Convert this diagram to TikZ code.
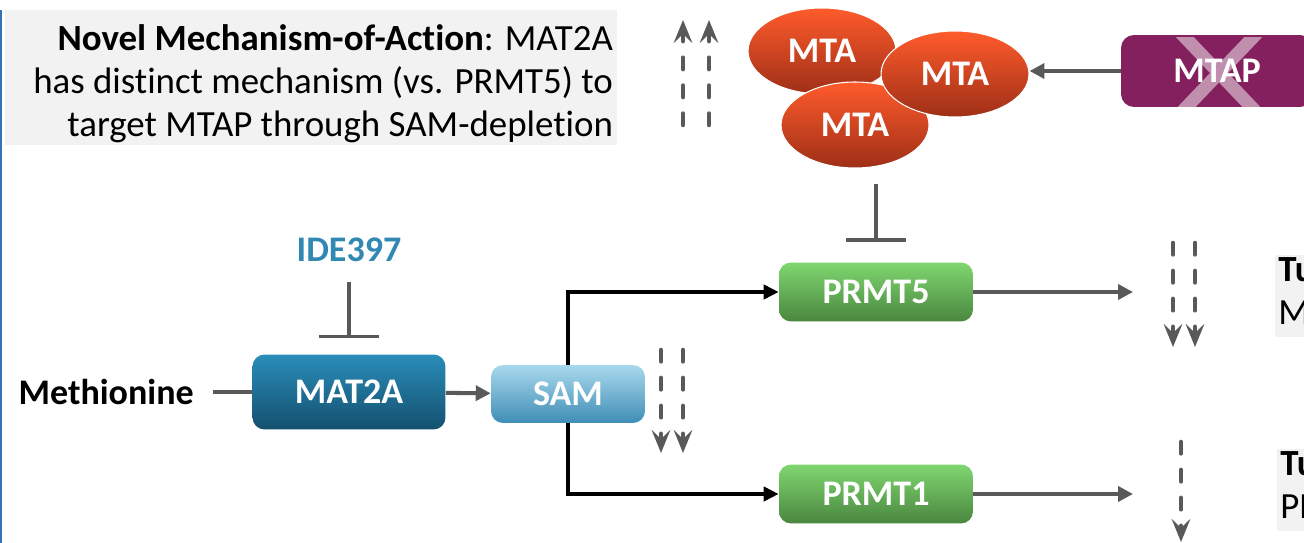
\documentclass[tikz,border=0pt]{standalone}
\usepackage{fontspec}
\setmainfont{Carlito}[Ligatures=CommonOff]
\usetikzlibrary{arrows.meta,positioning,calc,shapes.geometric}

\definecolor{notegray}{HTML}{F2F2F2}
\definecolor{arrowgray}{HTML}{595959}
\definecolor{mattop}{HTML}{2A8DBA}
\definecolor{matbot}{HTML}{14506E}
\definecolor{samtop}{HTML}{A9D9EE}
\definecolor{sambot}{HTML}{3F8DB5}
\definecolor{prmttop}{HTML}{7FD66F}
\definecolor{prmtbot}{HTML}{4A873F}
\definecolor{mtatop}{HTML}{FF5B2B}
\definecolor{mtabot}{HTML}{9E2F17}
\definecolor{mtappurple}{HTML}{84205E}
\definecolor{idecolor}{HTML}{3189B3}
\definecolor{bordercol}{HTML}{2E75B6}

\newcommand{\boxfont}{\fontsize{20.5}{24}\selectfont\bfseries}
\newcommand{\notefont}{\fontsize{21}{24.5}\selectfont}
\newcommand{\lastdepth}{\rule[-0.22cm]{0pt}{0.22cm}}

\tikzset{
  enzyme/.style={rounded corners=0.24cm, minimum width=3.88cm, minimum height=1.18cm,
    inner sep=2pt, text=white, font=\boxfont, align=center},
  mtablob/.style={ellipse, draw=white, line width=0.6pt, top color=mtatop, bottom color=mtabot,
    minimum width=2.96cm, minimum height=1.72cm, inner sep=0pt, text=white, font=\boxfont},
  link/.style={line width=2.3pt, draw=arrowgray},
  flow/.style={link, -{Triangle[length=8.5pt,width=8.5pt]}},
  feed/.style={-{Triangle[length=8.5pt,width=8pt]}, line width=2pt, draw=black},
  inhibit/.style={-{Bar[width=34pt]}, line width=2pt, draw=arrowgray},
  trend/.style={-{Stealth[length=13pt,width=10.5pt,inset=5pt]}, line width=2.6pt,
    draw=arrowgray, line cap=round, dash pattern=on 6.5pt off 9.4pt},
  infofill/.style={fill=notegray, minimum width=12.24cm, minimum height=2.7cm, inner sep=0pt},
  infotext/.style={anchor=east, align=right, font=\notefont, inner sep=0pt},
  notebox/.style={fill=notegray, anchor=north west, align=left, font=\notefont,
    text width=1.3cm, inner xsep=0.06cm, inner ysep=0.04cm},
}

\begin{document}
\begin{tikzpicture}[x=0.02cm, y=-0.02cm]
  \useasboundingbox (0,0) rectangle (1304,543);
  \clip (0,0) rectangle (1304,543);
  \fill[white] (0,0) rectangle (1304,543);

  %% ---- note on the mechanism ----
  \node[infofill] (moabox) at (311,77.5) {};
  \node[infotext] (moa) at ($(moabox.east)+(-4,6)$)
    {\textbf{Novel Mechanism-of-Action}: MAT2A\\has distinct mechanism (vs. PRMT5) to\\target MTAP through SAM-depletion};

  %% ---- methionine -> MAT2A -> SAM ----
  \node[font=\boxfont, anchor=east, inner sep=0pt] (methionine) at (194,392) {Methionine};
  \node[font=\boxfont, text=idecolor, inner sep=0pt] (ide397) at (349,250) {IDE397};
  \node[enzyme, minimum width=3.86cm, minimum height=1.5cm, top color=mattop, bottom color=matbot]
    (mat2a) at (349,392) {MAT2A};
  \node[enzyme, minimum width=3.08cm, minimum height=1.16cm, top color=samtop, bottom color=sambot]
    (sam) at (568,394) {SAM};

  \draw[link, shorten <=0.38cm] (methionine) -- (mat2a);
  \draw[inhibit, shorten <=0.39cm, shorten >=0.32cm] (ide397) -- (mat2a);
  \draw[flow] (mat2a) -- (sam);

  %% ---- methyltransferases ----
  \node[enzyme, top color=prmttop, bottom color=prmtbot] (prmt5) at (876,292) {PRMT5};
  \node[enzyme, top color=prmttop, bottom color=prmtbot] (prmt1) at (876,494) {PRMT1};

  \draw[feed] (sam.north) |- (prmt5);
  \draw[feed] (sam.south) |- (prmt1);

  \coordinate (prmt5out) at (1133,292);
  \coordinate (prmt1out) at (1133,494);
  \draw[flow] (prmt5) -- (prmt5out);
  \draw[flow] (prmt1) -- (prmt1out);

  %% ---- MTA pile and deleted MTAP ----
  \node[mtablob] (mta1) at (822,51) {MTA};
  \node[mtablob] (mta3) at (855,125) {MTA};
  \node[mtablob] (mta2) at (955,74) {MTA};

  \node[enzyme, rounded corners=0.26cm, fill=mtappurple, minimum width=3.84cm, minimum height=1.44cm]
    (mtap) at (1217,71) {MTAP};
  \begin{scope}
    \clip (1150,38) rectangle (1290,107);
    \draw[white, opacity=0.5, line width=0.26cm] (1178,30) -- (1260,116) (1260,30) -- (1178,116);
  \end{scope}

  \draw[flow] (mtap.west) -- (mtap.west -| mta2.east);
  \draw[inhibit, shorten <=0.3cm, shorten >=0.41cm] (mta3.south -| prmt5.north) -- (prmt5.north);

  %% ---- up / down trends ----
  \foreach \x in {683,709} \draw[trend] (\x,125) -- (\x,20);
  \foreach \x in {661,683} \draw[trend] (\x,350) -- (\x,453);
  \foreach \x in {1173,1195} \draw[trend] (\x,243) -- (\x,347);
  \draw[trend] (1181,442) -- (1181,542);

  %% ---- outcome notes at the right edge ----
  \node[notebox] (note5) at (1275,255) {\textbf{Tu}\\M\lastdepth};
  \node[notebox] (note1) at (1277,449) {\textbf{Tu}\\PR\lastdepth};

  \draw[bordercol, line width=1.2pt] (1,10) -- (1,543);
\end{tikzpicture}
\end{document}
